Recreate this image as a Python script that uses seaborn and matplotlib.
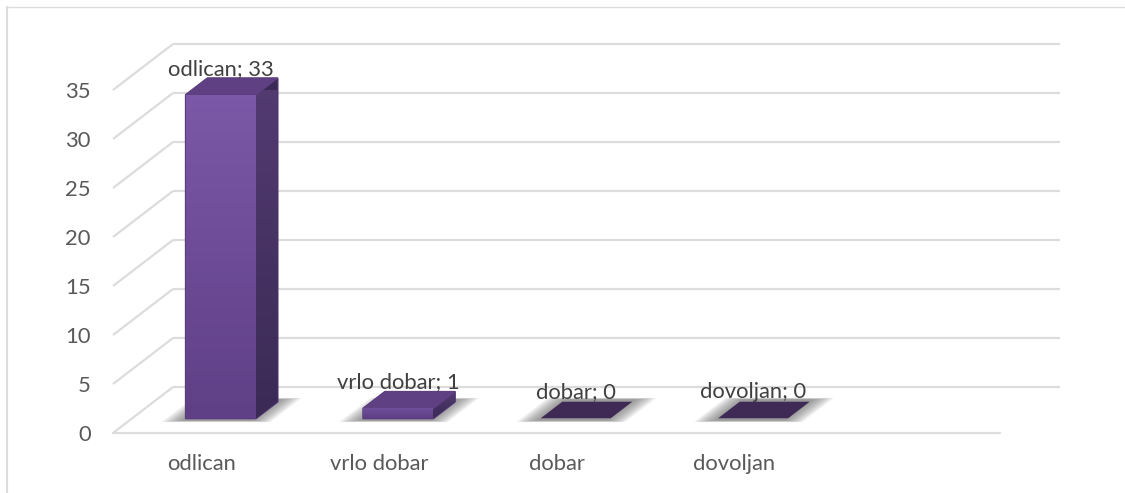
import numpy as np
import matplotlib
matplotlib.use("Agg")
import matplotlib.pyplot as plt
import seaborn as sns
from matplotlib.lines import Line2D
from matplotlib.patches import Polygon
from matplotlib.colors import LinearSegmentedColormap

categories = ["odlican", "vrlo dobar", "dobar", "dovoljan", ""]
shown = ["odlican", "vrlo dobar", "dobar", "dovoljan"]
values = [33, 1, 0, 0]
y_ticks = [0, 5, 10, 15, 20, 25, 30, 35]

W, H = 1125, 493
# one unit of depth moves this far in data units (back wall of the fake 3d box)
DX = 60 / 177.4
DY = 46 / 9.8
BAR_W = 70 / 177.4
D_FRONT = 0.32
D_BACK = 0.68

sns.set_theme(style="white")
plt.rcParams["font.family"] = ["Lato", "DejaVu Sans"]

fig = plt.figure(figsize=(W / 100, H / 100), dpi=100)
ax = fig.add_axes([113 / W, (H - 433) / H, 887 / W, 343 / H])

sns.barplot(x=shown, y=values, order=categories, ax=ax, width=BAR_W,
            color="#6a4a94", saturation=1, zorder=5, edgecolor="none", linewidth=0)
ax.set_xlim(-0.5, 4.5)
ax.set_ylim(0, 35)
ax.set_autoscale_on(False)
sns.despine(ax=ax, left=True, bottom=True)


def proj(x, v, d):
    return (x + d * DX, v + d * DY)


def gradient_face(pts, top, bottom, z):
    poly = Polygon(pts, closed=True, facecolor=bottom, edgecolor="none",
                   clip_on=False, zorder=z)
    ax.add_patch(poly)
    xs = [p[0] for p in pts]
    ys = [p[1] for p in pts]
    cmap = LinearSegmentedColormap.from_list("g", [top, bottom])
    im = ax.imshow(np.linspace(0, 1, 64).reshape(-1, 1), cmap=cmap,
                   extent=(min(xs), max(xs), min(ys), max(ys)),
                   aspect="auto", zorder=z, interpolation="bilinear")
    im.set_clip_path(poly)
    ax.set_xlim(-0.5, 4.5)
    ax.set_ylim(0, 35)


# walls: grid lines on the back wall and the left side
for v in y_ticks:
    back_l = proj(-0.5, v, 1)
    back_r = proj(4.5, v, 1)
    front_l = proj(-0.5, v, 0)
    for a, b in [(back_l, back_r), (front_l, back_l)]:
        ax.plot([a[0], b[0]], [a[1], b[1]], color="#dcdcdc", lw=1.6,
                clip_on=False, zorder=1, solid_capstyle="butt")
ax.plot([-0.5, 4.5], [0, 0], color="#dcdcdc", lw=1.6, clip_on=False, zorder=1)

bars = list(ax.patches)
for i, (bar, val) in enumerate(zip(bars, values)):
    x0 = i - BAR_W / 2
    x1 = i + BAR_W / 2
    bar.set_x(x0 + D_FRONT * DX)
    bar.set_y(D_FRONT * DY)
    bar.set_clip_on(False)
    bar.set_visible(val > 0)

    # floor shadow: faint layers that spread sideways more than up and down
    for g in np.linspace(0.11, 0.0, 12):
        g = float(g)
        dz = 0.05 + g * 0.3
        shadow = [proj(x0 - g, 0, D_FRONT - dz), proj(x1 + g, 0, D_FRONT - dz),
                  proj(x1 + g, 0, D_BACK + dz), proj(x0 - g, 0, D_BACK + dz)]
        ax.add_patch(Polygon(shadow, closed=True, facecolor="#5a5a5a", edgecolor="none",
                             alpha=0.07, clip_on=False, zorder=2))

    top_pts = [proj(x0, val, D_FRONT), proj(x1, val, D_FRONT),
               proj(x1, val, D_BACK), proj(x0, val, D_BACK)]
    if val == 0:
        ax.add_patch(Polygon(top_pts, closed=True, facecolor="#3f2a56", edgecolor="none",
                             clip_on=False, zorder=6))
    else:
        # rounded silhouette under the faces
        outline = [proj(x0, 0, D_FRONT), proj(x1, 0, D_FRONT), proj(x1, 0, D_BACK),
                   proj(x1, val, D_BACK), proj(x0, val, D_BACK), proj(x0, val, D_FRONT)]
        ax.add_patch(Polygon(outline, closed=True, facecolor="#4b3468", edgecolor="#5a3d7c",
                             lw=1.5, clip_on=False, zorder=3, joinstyle="round"))
        side = [proj(x1, 0, D_FRONT), proj(x1, 0, D_BACK),
                proj(x1, val, D_BACK), proj(x1, val, D_FRONT)]
        gradient_face(side, "#533b72", "#3b2a55", 4)
        ax.add_patch(Polygon(top_pts, closed=True, facecolor="#5f4082", edgecolor="#5f4082",
                             lw=0.8, clip_on=False, zorder=6, joinstyle="round"))
        front = [proj(x0, 0, D_FRONT), proj(x1, 0, D_FRONT),
                 proj(x1, val, D_FRONT), proj(x0, val, D_FRONT)]
        # colour runs with height, so the low bar stays close to the dark end
        shade = "#7c58a8" if val > 5 else "#6f4f9a"
        gradient_face(front, shade, "#5f4086", 7)

    fx, fy = proj(i, val, D_FRONT)
    ax.annotate(f"{shown[i]}; {val}", (fx, fy), xytext=(0, 26 * 0.72), textcoords="offset points",
                ha="center", va="center", fontsize=15.8, color="#404040", zorder=10,
                annotation_clip=False)

ax.set_yticks(y_ticks)
ax.set_yticklabels([str(v) for v in y_ticks])
ax.tick_params(axis="y", length=0, pad=16, labelsize=15.8, labelcolor="#595959")
ax.tick_params(axis="x", length=0, pad=15, labelsize=15.8, labelcolor="#595959")
ax.set_xlabel("")
ax.set_ylabel("")

# outer chart frame
fig.add_artist(Line2D([6 / W, 1], [1 - 7 / H, 1 - 7 / H], color="#dcdcdc", lw=1.0))
fig.add_artist(Line2D([7 / W, 7 / W], [0, 1 - 7 / H], color="#dcdcdc", lw=1.5))

fig.savefig("out.png", dpi=100)
